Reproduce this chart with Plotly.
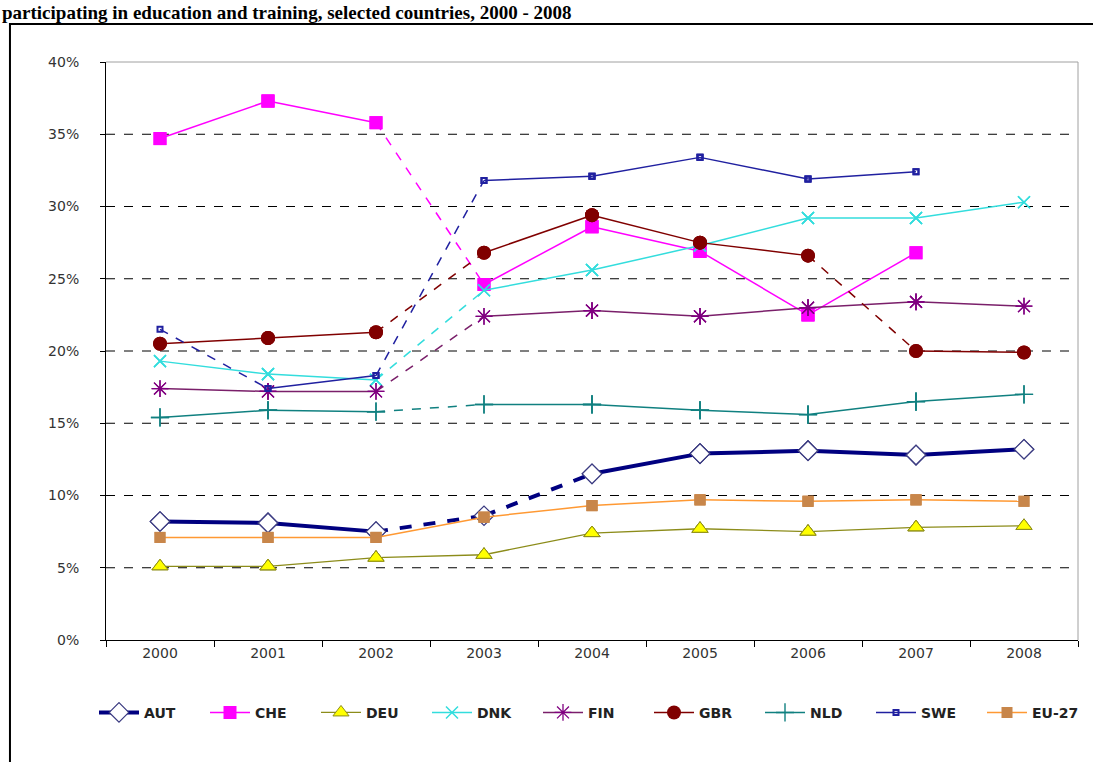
import plotly.graph_objects as go

# Participation rates (%) by country, 2000-2008
years = ["2000", "2001", "2002", "2003", "2004", "2005", "2006", "2007", "2008"]

aut = [8.2, 8.1, 7.5, 8.6, 11.5, 12.9, 13.1, 12.8, 13.2]
che = [34.7, 37.3, 35.8, 24.6, 28.6, 26.9, 22.5, 26.8, None]
deu = [5.1, 5.1, 5.7, 5.9, 7.4, 7.7, 7.5, 7.8, 7.9]
dnk = [19.3, 18.4, 18.0, 24.2, 25.6, 27.3, 29.2, 29.2, 30.3]
fin = [17.4, 17.2, 17.2, 22.4, 22.8, 22.4, 23.0, 23.4, 23.1]
gbr = [20.5, 20.9, 21.3, 26.8, 29.4, 27.5, 26.6, 20.0, 19.9]
nld = [15.4, 15.9, 15.8, 16.3, 16.3, 15.9, 15.6, 16.5, 17.0]
swe = [21.5, 17.4, 18.3, 31.8, 32.1, 33.4, 31.9, 32.4, None]
eu27 = [7.1, 7.1, 7.1, 8.5, 9.3, 9.7, 9.6, 9.7, 9.6]

# Years after which the series has a break in comparability (drawn dashed)
breaks = {
    "AUT": ["2002", "2003"],
    "CHE": ["2002"],
    "DEU": [],
    "DNK": ["2002"],
    "FIN": ["2002"],
    "GBR": ["2002", "2006"],
    "NLD": ["2002"],
    "SWE": ["2000", "2002"],
    "EU-27": [],
}

y_ticks = [0, 5, 10, 15, 20, 25, 30, 35, 40]

series = [
    ("AUT", aut, dict(color="#000080", width=4),
     dict(symbol="diamond", size=15, color="white", line=dict(color="#3a3a80", width=1.2))),
    ("CHE", che, dict(color="#FF00FF", width=1.5),
     dict(symbol="square", size=13, color="#FF00FF", line=dict(width=0))),
    ("DEU", deu, dict(color="#8c8c1a", width=1.3),
     dict(symbol="triangle-up", size=14, color="#FFFF00", line=dict(color="#8c8c1a", width=1))),
    ("DNK", dnk, dict(color="#33DDDD", width=1.5),
     dict(symbol="x-thin-open", size=12, color="#33DDDD", line=dict(color="#33DDDD", width=1.5))),
    ("FIN", fin, dict(color="#7a1f6a", width=1.5),
     dict(symbol="asterisk-open", size=14, color="#800080", line=dict(color="#800080", width=1.3))),
    ("GBR", gbr, dict(color="#800000", width=1.5),
     dict(symbol="circle", size=14, color="#800000", line=dict(width=0))),
    ("NLD", nld, dict(color="#108080", width=1.5),
     dict(symbol="cross-thin-open", size=13, color="#108080", line=dict(color="#108080", width=1.4))),
    ("SWE", swe, dict(color="#2020A0", width=1.5),
     dict(symbol="square-open", size=5, color="#2020A0", line=dict(color="#2020A0", width=2))),
    ("EU-27", eu27, dict(color="#FF9933", width=1.5),
     dict(symbol="square", size=11, color="#C8864A", line=dict(width=0))),
]

fig = go.Figure()

for name, vals, line, marker in series:
    solid_x, solid_y, dash_x, dash_y = [], [], [], []
    for i in range(len(years) - 1):
        if vals[i] is None or vals[i + 1] is None:
            continue
        if years[i] in breaks[name]:
            dash_x += [years[i], years[i + 1], None]
            dash_y += [vals[i], vals[i + 1], None]
        else:
            solid_x += [years[i], years[i + 1], None]
            solid_y += [vals[i], vals[i + 1], None]
    if dash_x:
        fig.add_trace(go.Scatter(
            x=dash_x, y=dash_y, mode="lines", showlegend=False, hoverinfo="skip",
            line=dict(color=line["color"], width=line["width"], dash="dash"),
        ))
    fig.add_trace(go.Scatter(
        x=solid_x, y=solid_y, mode="lines+markers", name=name,
        line=line, marker=marker,
    ))
    fig.add_trace(go.Scatter(
        x=years, y=vals, mode="markers", showlegend=False, marker=marker,
    ))

# Dashed horizontal gridlines (none at the top of the axis)
shapes = []
for t in y_ticks[1:-1]:
    shapes.append(dict(type="line", xref="paper", yref="y", x0=0, x1=1, y0=t, y1=t,
                       line=dict(color="black", width=1, dash="dash"), layer="below"))
# Plot area border (top and right)
shapes.append(dict(type="line", xref="paper", yref="paper", x0=0, x1=1, y0=1, y1=1,
                   line=dict(color="#a0a0a0", width=1)))
shapes.append(dict(type="line", xref="paper", yref="paper", x0=1, x1=1, y0=0, y1=1,
                   line=dict(color="#a0a0a0", width=1)))
# Chart frame
shapes.append(dict(type="rect", xref="paper", yref="paper", x0=-0.0988, x1=1.03, y0=-0.3, y1=1.0657,
                   line=dict(color="black", width=2), fillcolor="rgba(0,0,0,0)"))

fig.update_layout(
    width=1093, height=762,
    margin=dict(l=106, r=15, t=62, b=122),
    paper_bgcolor="white", plot_bgcolor="white",
    font=dict(family="DejaVu Sans, Verdana, sans-serif", size=14, color="#333333"),
    shapes=shapes,
    showlegend=True,
    legend=dict(
        orientation="h", x=-0.012, xanchor="left", y=-0.126, yanchor="middle",
        font=dict(family="DejaVu Sans, Verdana, sans-serif", size=14, color="#222222", weight="bold"),
        entrywidth=56, entrywidthmode="pixels", itemwidth=40,
        bgcolor="rgba(0,0,0,0)", traceorder="normal",
    ),
    annotations=[dict(
        text="<b>participating in education and training, selected countries, 2000 - 2008</b>",
        xref="paper", yref="paper", x=-0.109, y=1.1073, xanchor="left", yanchor="top",
        showarrow=False,
        font=dict(family="Liberation Serif, Times New Roman, serif", size=19, color="black"),
    )],
)

fig.update_xaxes(
    type="category", categoryorder="array", categoryarray=years, range=[-0.5, 8.5],
    tickson="boundaries", ticks="outside", ticklen=6, tickcolor="black",
    showline=True, linecolor="black", linewidth=1, showgrid=False, zeroline=False,
)
fig.update_yaxes(
    range=[0, 40], tickvals=y_ticks, ticktext=[f"{t}%" for t in y_ticks],
    ticks="outside", ticklen=5, tickcolor="black", ticklabelstandoff=18,
    showline=True, linecolor="black", linewidth=1, showgrid=False, zeroline=False,
)

fig.write_html("out.html")
